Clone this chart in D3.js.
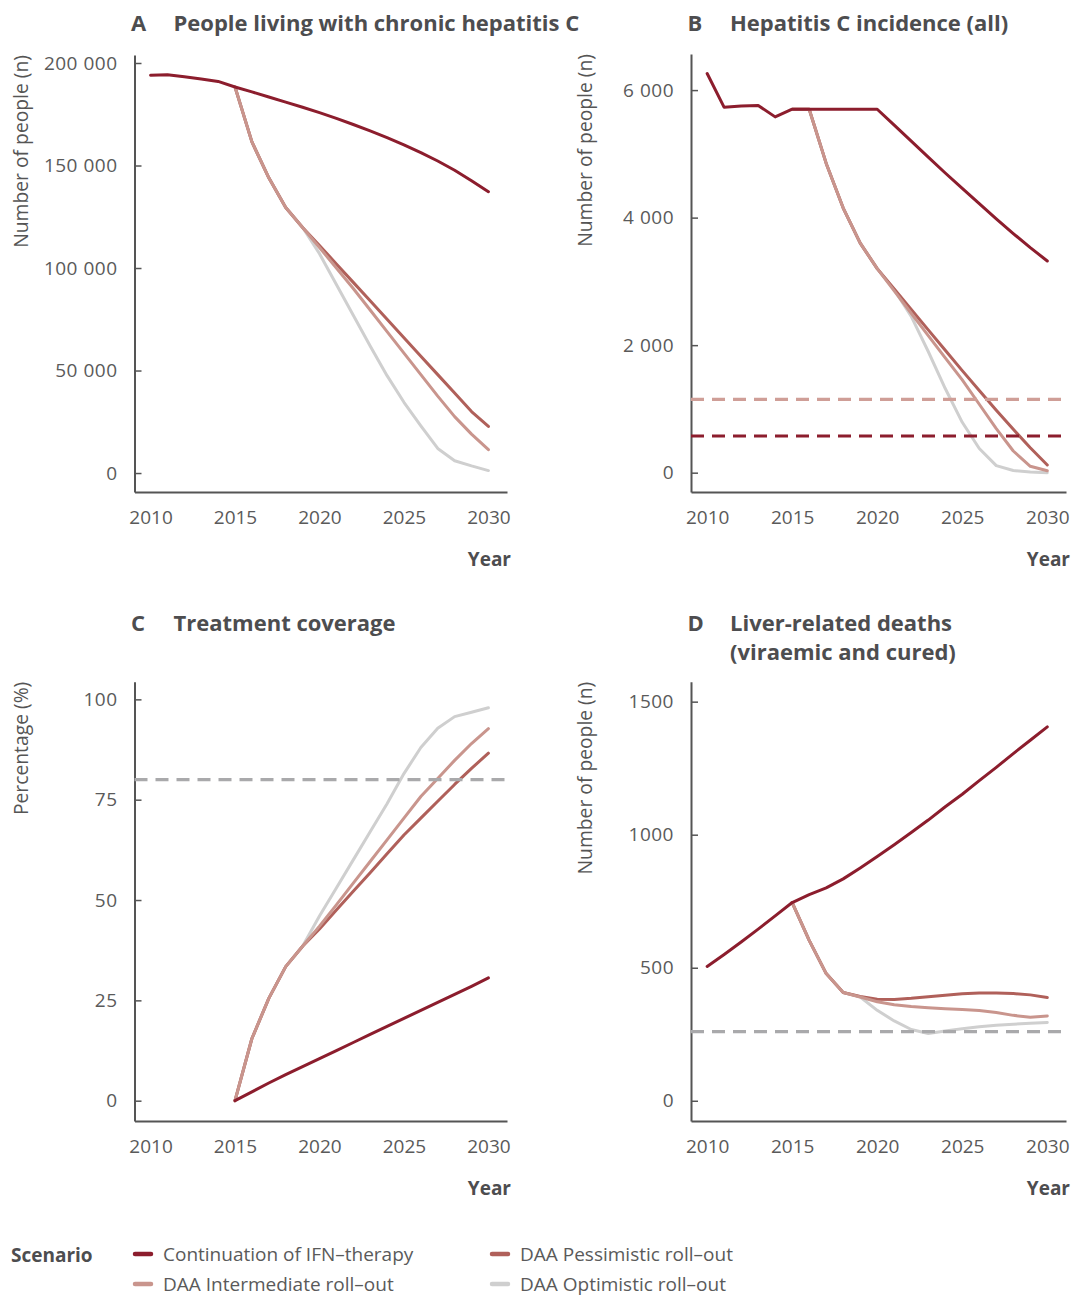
<!DOCTYPE html>
<html><head><meta charset="utf-8">
<script src="https://cdn.jsdelivr.net/npm/d3@7"></script>
<style>
body{margin:0;background:#fff}
svg{display:block}
text{font-family:'Open Sans',sans-serif}
</style>
</head><body>
<svg id="chart" width="1071" height="1296"></svg>
<script>
// ---------- DATA ----------
const years = d3.range(2010, 2031);
const daaYears = d3.range(2015, 2031);
const xTickYears = [2010, 2015, 2020, 2025, 2030];

const scenarios = ["Continuation of IFN–therapy", "DAA Pessimistic roll–out", "DAA Intermediate roll–out", "DAA Optimistic roll–out"];
const scenarioColors = ["#8c1d2d", "#b0605a", "#c9958d", "#cfcfcf"];

// Panel A: people living with chronic hepatitis C
const aIFN  = [194000,194300,193300,192200,191000,188300,185900,183400,180900,178400,175800,173000,170000,166900,163600,160100,156300,152200,147700,142600,137200];
const aPess = [188300,161500,144000,129500,119800,111000,102000,93000,84000,75000,66000,57000,48000,39000,30000,22700];
const aInt  = [188300,161500,144000,129500,119800,110000,100000,90000,79500,69000,58500,48000,37500,27500,19000,11400];
const aOpt  = [188300,161500,144000,129500,119800,107000,92000,77000,62000,47500,34500,23000,12000,6000,3500,1200];
const aTicks = [0, 50000, 100000, 150000, 200000];
const aTickLabels = ["0", "50 000", "100 000", "150 000", "200 000"];

// Panel B: hepatitis C incidence
const bIFN  = [6260,5730,5750,5760,5580,5700,5700,5700,5700,5700,5700,5450,5200,4950,4700,4460,4220,3980,3750,3530,3320];
const bPess = [5700,5700,4850,4150,3600,3200,2880,2560,2240,1920,1600,1290,980,680,390,120];
const bInt  = [5700,5700,4850,4150,3600,3200,2850,2500,2150,1800,1456,1073,690,340,100,30];
const bOpt  = [5700,5700,4850,4150,3600,3200,2870,2450,1900,1320,790,380,110,35,10,0];
const bTargets = [1150, 575];
const bTicks = [0, 2000, 4000, 6000];
const bTickLabels = ["0", "2 000", "4 000", "6 000"];

// Panel C: treatment coverage (%)
const cIFN  = [0,2.2,4.4,6.5,8.5,10.5,12.5,14.5,16.5,18.5,20.5,22.5,24.5,26.5,28.5,30.6];
const cPess = [0,15.5,25.5,33.4,38.5,42.8,47.5,52.2,56.8,61.5,66.2,70.4,74.6,78.8,82.8,86.6];
const cInt  = [0,15.5,25.5,33.4,38.5,43.5,48.8,54.2,59.6,65,70.4,75.8,80.3,84.8,89,92.7];
const cOpt  = [0,15.5,25.5,33.4,38.5,46,53,60,67,74,81.5,88,92.8,95.7,96.8,97.9];
const cTarget = [80];
const cTicks = [0, 25, 50, 75, 100];
const cTickLabels = ["0", "25", "50", "75", "100"];

// Panel D: liver-related deaths
const dIFN  = [505,550,597,645,695,745,775,800,834,875,918,962,1008,1055,1105,1152,1203,1253,1305,1355,1405];
const dPess = [745,603,478,407,392,382,381,385,391,397,402,405,405,403,398,388];
const dInt  = [745,603,478,407,390,372,361,354,350,346,343,339,332,321,314,319];
const dOpt  = [745,603,478,407,390,340,300,268,253,262,271,278,284,288,291,294];
const dTarget = [260];
const dTicks = [0, 500, 1000, 1500];
const dTickLabels = ["0", "500", "1000", "1500"];

// ---------- LAYOUT ----------
const svg = d3.select("#chart");
const axisColor = "#555";
const textColor = "#5a5a5a";
const titleColor = "#4d4d4f";
const gray = "#a9a9ab";

const panels = [
  {letter:"A", title:["People living with chronic hepatitis C"], ytitle:"Number of people (n)",
   L:134.5, T:55, R:507, B:492, yDomain:[-9250,203900], ticks:aTicks, labels:aTickLabels,
   series:[aIFN,aPess,aInt,aOpt], targets:[], targetColors:[]},
  {letter:"B", title:["Hepatitis C incidence (all)"], ytitle:"Number of people (n)",
   L:691, T:54, R:1066, B:492, yDomain:[-303,6566], ticks:bTicks, labels:bTickLabels,
   series:[bIFN,bPess,bInt,bOpt], targets:bTargets, targetColors:["#cf9e97", scenarioColors[0]]},
  {letter:"C", title:["Treatment coverage"], ytitle:"Percentage (%)",
   L:134.5, T:681.7, R:507, B:1121, yDomain:[-5.06,104.4], ticks:cTicks, labels:cTickLabels,
   series:[cIFN,cPess,cInt,cOpt], targets:cTarget, targetColors:[gray]},
  {letter:"D", title:["Liver-related deaths","(viraemic and cured)"], ytitle:"Number of people (n)",
   L:691, T:681.7, R:1066, B:1121, yDomain:[-76,1575], ticks:dTicks, labels:dTickLabels,
   series:[dIFN,dPess,dInt,dOpt], targets:dTarget, targetColors:[gray]}
];

panels.forEach(p => {
  const g = svg.append("g");
  const x = d3.scaleLinear().domain([2009.05, 2031.1]).range([p.L, p.R]);
  const y = d3.scaleLinear().domain(p.yDomain).range([p.B, p.T]);

  // title
  const titleBase = p.T < 100 ? 31 : 631;
  g.append("text").attr("x", p.L - 3.5).attr("y", titleBase)
    .attr("font-size", 22).attr("font-weight", 700).attr("fill", titleColor).text(p.letter);
  p.title.forEach((t, i) => {
    g.append("text").attr("x", p.L + 39).attr("y", titleBase + i * 29)
      .attr("font-size", 22).attr("font-weight", 700).attr("fill", titleColor).text(t);
  });

  // y title
  const yx = p.L < 300 ? 28 : 592;
  g.append("text").attr("transform", `translate(${yx},${p.T}) rotate(-90)`)
    .attr("text-anchor", "end").attr("font-size", 19.3).attr("fill", "#555").text(p.ytitle);

  // axes
  const yAxis = d3.axisLeft(y).tickValues(p.ticks)
    .tickFormat((d, i) => p.labels[i]).tickSizeInner(-7).tickSizeOuter(0).tickPadding(17);
  const ya = g.append("g").attr("transform", `translate(${p.L},0)`).call(yAxis);
  const xAxis = d3.axisBottom(x).tickValues(xTickYears).tickFormat(d3.format("d"))
    .tickSize(0).tickPadding(19);
  const xa = g.append("g").attr("transform", `translate(0,${p.B})`).call(xAxis);
  [ya, xa].forEach(a => {
    a.select(".domain").attr("stroke", axisColor).attr("stroke-width", 2);
    a.selectAll(".tick line").attr("stroke", axisColor).attr("stroke-width", 1.5);
    a.selectAll(".tick text").attr("font-size", 19).attr("fill", textColor)
      .attr("font-family", "'Open Sans',sans-serif");
  });
  ya.selectAll(".tick text").attr("letter-spacing", 0.5);
  g.append("text").attr("x", p.R + 4).attr("y", p.B + 74).attr("text-anchor", "end")
    .attr("font-size", 19).attr("font-weight", 700).attr("fill", titleColor).text("Year");

  // lines (draw optimistic, pessimistic, intermediate, then IFN)
  const line = d3.line().x(d => x(d[0])).y(d => y(d[1])).curve(d3.curveLinear);
  [3, 1, 2, 0].forEach(si => {
    const vals = p.series[si];
    const yrs = vals.length === years.length ? years : daaYears;
    g.append("path").datum(yrs.map((yr, i) => [yr, vals[i]]))
      .attr("d", line).attr("fill", "none").attr("stroke", scenarioColors[si])
      .attr("stroke-width", 3).attr("stroke-linejoin", "round").attr("stroke-linecap", "round");
  });

  // target lines
  p.targets.forEach((t, i) => {
    g.append("line").attr("x1", p.L).attr("x2", p.R).attr("y1", y(t)).attr("y2", y(t))
      .attr("stroke", p.targetColors[i]).attr("stroke-width", 3.2).attr("stroke-dasharray", "13,8");
  });
});

// legend
const lg = svg.append("g");
lg.append("text").attr("x", 11).attr("y", 1262).attr("font-size", 19).attr("font-weight", 700)
  .attr("fill", titleColor).text("Scenario");
const legendPos = [[133, 1254], [490, 1254], [133, 1284], [490, 1284]];
scenarios.forEach((s, i) => {
  const [lx, ly] = legendPos[i];
  lg.append("line").attr("x1", lx + 2).attr("x2", lx + 18).attr("y1", ly).attr("y2", ly)
    .attr("stroke", scenarioColors[i]).attr("stroke-width", 4.5).attr("stroke-linecap", "round");
  lg.append("text").attr("x", lx + 30).attr("y", ly + 6.5).attr("font-size", 19)
    .attr("fill", textColor).text(s);
});
</script>
</body></html>
